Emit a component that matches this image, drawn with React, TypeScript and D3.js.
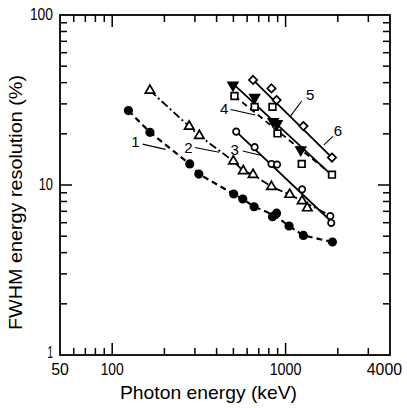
import React from 'react';
import * as d3 from 'd3';

// ---- axes ----
const xDomain = [50, 4000];
const yDomain = [1, 100];
const xTickLabels = [50, 100, 1000, 4000];
const yTickLabels = [1, 10, 100];
const xMinorTicks = [60, 70, 80, 90, 200, 300, 400, 500, 600, 700, 800, 900, 2000, 3000];
const xMajorTicks = [100, 1000];
const yMinorTicks = [2, 3, 4, 5, 6, 7, 8, 9, 20, 30, 40, 50, 60, 70, 80, 90];
const yMajorTicks = [10];
const xTitle = 'Photon energy (keV)';
const yTitle = 'FWHM energy resolution (%)';

// ---- series 1: filled circles, dashed ----
const s1E = [124, 165, 280, 316, 502, 566, 658, 840, 887, 1047, 1267, 1862];
const s1R = [27.4, 20.4, 13.3, 11.6, 8.85, 8.27, 7.45, 6.51, 6.83, 5.74, 5.05, 4.62];
const s1LineE = [124, 165, 280, 316, 502, 566, 658, 860, 1047, 1267, 1862];
const s1LineR = [27.4, 20.4, 13.3, 11.6, 8.85, 8.27, 7.45, 6.65, 5.74, 5.05, 4.62];

// ---- series 2: open triangles, dash-dot ----
const s2E = [165, 278, 318, 500, 570, 649, 829, 1055, 1245, 1334];
const s2R = [36.0, 22.1, 19.5, 13.8, 12.1, 11.5, 9.77, 8.79, 8.05, 7.32];
const s2LineE = [165, 278, 318, 500, 570, 649, 829, 1055, 1245, 1810];
const s2LineR = [36.0, 22.1, 19.5, 13.8, 12.1, 11.5, 9.77, 8.79, 8.05, 6.6];

// ---- series 3: open circles, solid ----
const s3E = [519, 663, 829, 893, 1245, 1810, 1833];
const s3R = [20.6, 16.7, 13.3, 13.2, 9.43, 6.57, 5.98];
const s3LineE = [519, 1833];
const s3LineR = [20.6, 6.1];

// ---- series 4: filled triangles, solid ----
const s4E = [497, 663, 848, 893, 1223];
const s4R = [38.7, 32.8, 23.6, 23.0, 16.1];
const s4LineE = [497, 1851];
const s4LineR = [39.5, 11.4];

// ---- series 5: open diamonds, solid ----
const s5E = [649, 829, 887, 1267, 1851];
const s5R = [41.5, 37.0, 31.6, 22.2, 14.5];
const s5LineE = [649, 1851];
const s5LineR = [41.5, 14.5];

// ---- series 6: open squares, dashed ----
const s6E = [507, 663, 840, 898, 1239, 1851];
const s6R = [33.4, 28.8, 28.8, 20.1, 13.3, 11.5];
const s6LineE = [507, 1851];
const s6LineR = [33.4, 11.5];

// ---- curve labels ----
const labelTexts = ['1', '2', '3', '4', '5', '6'];
const labelE = [136, 275, 509, 442, 1388, 2006];
const labelR = [17.9, 16.5, 16.1, 28.0, 33.8, 20.8];
const leaderStartE = [149.5, 300, 566, 482, 1239, 1876];
const leaderStartR = [17.4, 16.6, 15.85, 27.8, 31.2, 19.3];
const leaderEndE = [203, 413, 725, 669, 1069, 1663];
const leaderEndR = [16.2, 15.6, 14.9, 25.8, 25.5, 17.2];

const W = 407;
const H = 408;
const left = 60, right = 390, top = 15, bottom = 355;

const x = d3.scaleLog().domain(xDomain).range([left, right]);
const y = d3.scaleLog().domain(yDomain).range([bottom, top]);

const zip = (a: number[], b: number[]) => a.map((v, i) => [v, b[i]] as [number, number]);
const line = d3.line<[number, number]>().x(d => x(d[0])).y(d => y(d[1]));

const digitWidth = (s: string) => s.split('').reduce((acc, c) => acc + (c === '1' ? 5.5 : 8.8), 0);

const FONT = "'Liberation Sans', Arial, sans-serif";

function Markers({ E, R, type, filled, size, rotate = 0 }: any) {
  const gen = d3.symbol().type(type).size(size);
  const p = gen() as string;
  return (
    <g>
      {E.map((e: number, i: number) => (
        <path
          key={i}
          d={p}
          transform={`translate(${x(e)},${y(R[i])}) rotate(${rotate})`}
          fill={filled ? '#000' : '#fff'}
          stroke="#000"
          strokeWidth={1.7}
        />
      ))}
    </g>
  );
}

export default function App() {
  const minorLen = 7;
  const majorLen = 12;
  return (
    <svg width={W} height={H} style={{ position: 'absolute', left: 0, top: 0, background: '#fff' }}>
      <rect x={0} y={0} width={W} height={H} fill="#fff" />
      {/* frame */}
      <rect x={left} y={top} width={right - left} height={bottom - top} fill="none" stroke="#000" strokeWidth={1.8} />
      {/* x ticks bottom/top */}
      {[...xMinorTicks.map(v => [v, minorLen]), ...xMajorTicks.map(v => [v, majorLen])].map(([v, l], i) => (
        <g key={'xt' + i} stroke="#000" strokeWidth={1.5}>
          <line x1={x(v)} x2={x(v)} y1={bottom} y2={bottom - l} />
          <line x1={x(v)} x2={x(v)} y1={top} y2={top + l} />
        </g>
      ))}
      {/* y ticks left/right */}
      {[...yMinorTicks.map(v => [v, minorLen]), ...yMajorTicks.map(v => [v, majorLen])].map(([v, l], i) => (
        <g key={'yt' + i} stroke="#000" strokeWidth={1.5}>
          <line x1={left} x2={left + l} y1={y(v)} y2={y(v)} />
          <line x1={right} x2={right - l} y1={y(v)} y2={y(v)} />
        </g>
      ))}
      {/* tick labels */}
      {xTickLabels.map((v, i) => {
        const w = digitWidth(String(v));
        const cx = Math.min(x(v), 402 - w / 2);
        return (
          <text key={'xl' + i} x={cx} y={375} textAnchor="middle" fontFamily={FONT} fontSize={16}
            textLength={w} lengthAdjust="spacingAndGlyphs">{v}</text>
        );
      })}
      {yTickLabels.map((v, i) => (
        <text key={'yl' + i} x={53 - digitWidth(String(v))} y={Math.min(y(v) + 5, 358)} textAnchor="start" fontFamily={FONT} fontSize={16}
          textLength={digitWidth(String(v))} lengthAdjust="spacingAndGlyphs">{v}</text>
      ))}
      {/* axis titles */}
      <text x={208.5} y={399} textAnchor="middle" fontFamily={FONT} fontSize={19} textLength={177} lengthAdjust="spacingAndGlyphs">{xTitle}</text>
      <text transform={`translate(22,202.5) rotate(-90)`} textAnchor="middle" fontFamily={FONT} fontSize={19} textLength={255} lengthAdjust="spacingAndGlyphs">{yTitle}</text>

      {/* lines */}
      <g fill="none" stroke="#000">
        <path d={line(zip(s1LineE, s1LineR)) as string} strokeWidth={2.2} strokeDasharray="6 4" />
        <path d={line(zip(s2LineE, s2LineR)) as string} strokeWidth={1.8} strokeDasharray="8 3 2 3" />
        <path d={line(zip(s3LineE, s3LineR)) as string} strokeWidth={1.8} />
        <path d={line(zip(s4LineE, s4LineR)) as string} strokeWidth={1.8} />
        <path d={line(zip(s5LineE, s5LineR)) as string} strokeWidth={1.8} />
        <path d={line(zip(s6LineE, s6LineR)) as string} strokeWidth={1.8} strokeDasharray="6 4" />
      </g>

      {/* markers */}
      <Markers E={s1E} R={s1R} type={d3.symbolCircle} filled size={44} />
      <Markers E={s2E} R={s2R} type={d3.symbolTriangle} filled={false} size={38} />
      <Markers E={s3E} R={s3R} type={d3.symbolCircle} filled={false} size={32} />
      <Markers E={s4E} R={s4R} type={d3.symbolTriangle} filled size={40} rotate={180} />
      <Markers E={s5E} R={s5R} type={d3.symbolDiamond2} filled={false} size={44} />
      <Markers E={s6E} R={s6R} type={d3.symbolSquare} filled={false} size={44} />

      {/* labels */}
      {labelTexts.map((t, i) => (
        <g key={'lab' + i}>
          <line x1={x(leaderStartE[i])} y1={y(leaderStartR[i])} x2={x(leaderEndE[i])} y2={y(leaderEndR[i])} stroke="#000" strokeWidth={1.1} />
          <text x={x(labelE[i])} y={y(labelR[i]) + 5} textAnchor="middle" fontFamily={FONT} fontSize={15}>{t}</text>
        </g>
      ))}
    </svg>
  );
}
